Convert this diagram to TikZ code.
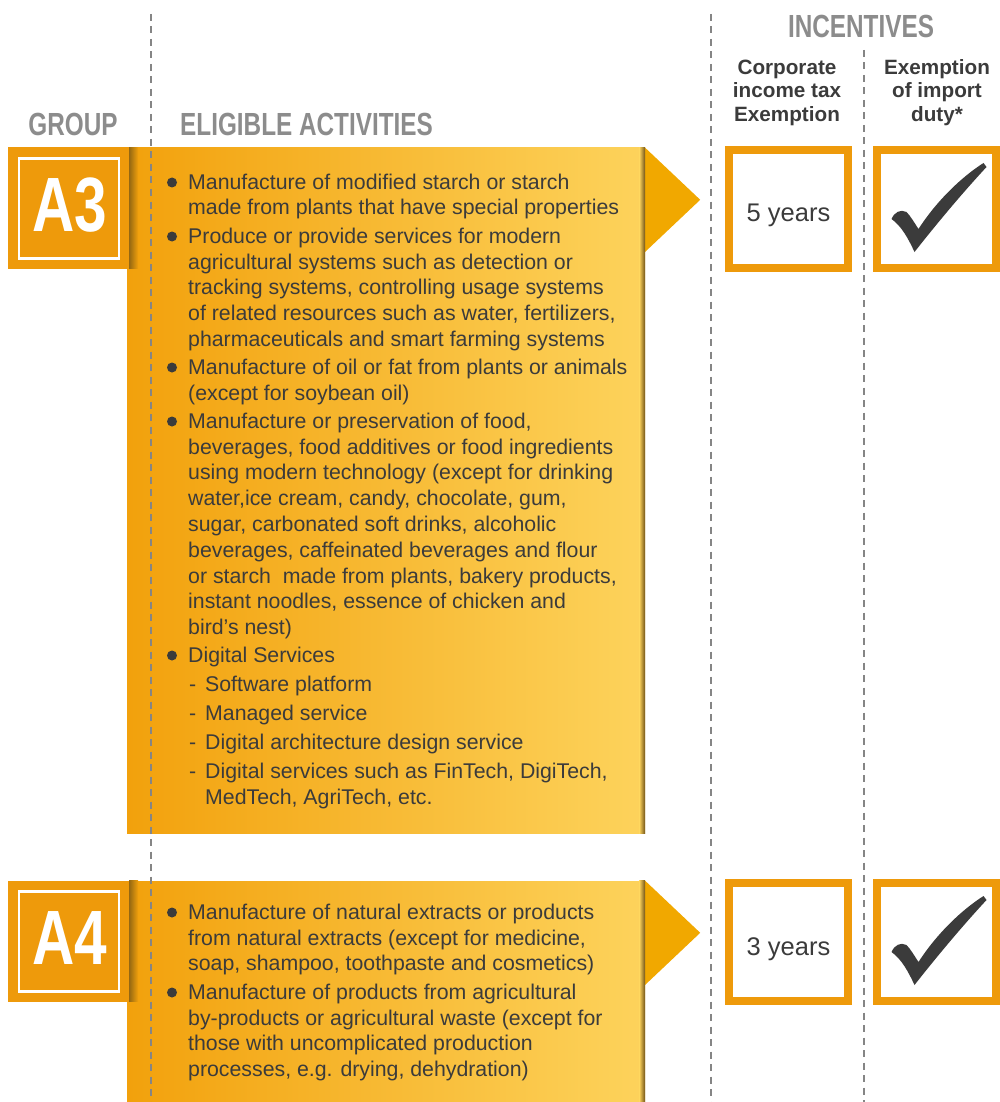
\documentclass[tikz,border=0pt]{standalone}
\usepackage{fontspec}
\setmainfont{Liberation Sans}
\newfontfamily\condfont[FakeStretch=0.76]{Liberation Sans}
\definecolor{hdrgray}{HTML}{8C8C8C}
\definecolor{txt}{HTML}{3B3B3B}
\definecolor{boxor}{HTML}{EE9A0B}
\definecolor{bandL}{HTML}{F2A10C}
\definecolor{bandR}{HTML}{FDD35C}
\definecolor{trior}{HTML}{F1A800}
\definecolor{shadowC}{HTML}{6E5014}
\definecolor{sepgray}{HTML}{858585}
\tikzset{
  hdr/.style={inner sep=0, text=hdrgray, font=\condfont\bfseries\fontsize{32}{36}\selectfont},
  colhdr/.style={inner sep=0, text=txt, align=center, font=\bfseries\fontsize{20.7}{23.5}\selectfont},
  gbox/.style={fill=boxor, minimum size=121, inner sep=0},
  gnum/.style={inner sep=0, text=white, font=\condfont\bfseries\fontsize{77}{77}\selectfont},
  band/.style={left color=bandL, right color=bandR, inner sep=0, minimum width=518},
  ibox/.style={draw=boxor, line width=8, fill=white, minimum width=119, minimum height=118, inner sep=0},
  itext/.style={anchor=base, inner sep=0, text=txt, font=\fontsize{25.5}{28}\selectfont},
  item/.style={anchor=north west, inner sep=0, text=txt, align=left, font=\fontsize{21.3}{25.8}\selectfont},
  sepline/.style={draw=sepgray, line width=2.5, dash pattern=on 7pt off 5.5pt},
  okmark/.pic={\fill[txt] (-45,10) .. controls (-42,3) and (-36,0) .. (-30,3) .. controls (-26,7) and (-22,14) .. (-18,20) .. controls (0,-8) and (25,-32) .. (47,-46) -- (50,-42) .. controls (25,-15) and (0,15) .. (-22,43) .. controls (-28,30) and (-35,17) .. (-45,10) -- cycle;}
}
\newcommand{\bul}[1]{\fill[txt] (172,#1-6.5) circle (5);}
\begin{document}
\begin{tikzpicture}[x=1pt,y=-1pt]
\useasboundingbox (0,0) rectangle (999,1102);
% headers
\node[hdr, anchor=base] (grp) at (73,136) {GROUP};
\node[hdr, anchor=base west] (elig) at (180,136) {ELIGIBLE ACTIVITIES};
\node[hdr, anchor=base] (inc) at (861,38) {INCENTIVES};
\node[colhdr, anchor=north] (cit) at (787,57.5) {\strut Corporate\\income tax\\Exemption};
\node[colhdr, anchor=north] (imp) at (937,57.5) {\strut Exemption\\of import\\duty*};
% A3 band
\node[band, minimum height=685] (band3) at (386,490.5) {};
\fill[trior] (band3.north east) -- ++(55,52) -- ++(-55,52) -- cycle;
\shade[left color=bandR, right color=shadowC] ([xshift=-6]band3.north east) rectangle (band3.south east);
% A4 band
\node[band, minimum height=221] (band4) at (386,991.5) {};
\fill[trior] (band4.north east) -- ++(55,52) -- ++(-55,52) -- cycle;
\shade[left color=bandR, right color=shadowC] ([xshift=-6]band4.north east) rectangle (band4.south east);
% group boxes
\node[gbox] (g3) at (68.5,208) {};
\shade[left color=shadowC!70!bandL, right color=bandL] (g3.north east) rectangle ([xshift=9]g3.south east);
\draw[white, line width=2.5] ([shift={(11,11)}]g3.north west) rectangle ([shift={(-10,-10)}]g3.south east);
\node[gnum] (a3) at (70,205.5) {A3};
\node[gbox] (g4) at (68.5,941) {};
\shade[left color=shadowC!70!bandL, right color=bandL] (g4.north east) rectangle ([xshift=9]g4.south east);
\draw[white, line width=2.5] ([shift={(11,11)}]g4.north west) rectangle ([shift={(-10,-10)}]g4.south east);
\node[gnum] (a4) at (70,938.5) {A4};
% separators
\coordinate (s1t) at (151,14); \coordinate (s1b) at (151,1102);
\coordinate (s2t) at (711,14); \coordinate (s2b) at (711,1102);
\coordinate (s3t) at (864,50); \coordinate (s3b) at (864,1102);
\draw[sepline] (s1t) -- (s1b);
\draw[sepline] (s2t) -- (s2b);
\draw[sepline] (s3t) -- (s3b);
% A3 items
\bul{189}
\node[item] (i31) at (188,189-18.06) {\strut Manufacture of modified starch or starch\\made from plants that have special properties};
\bul{243}
\node[item] (i32) at (188,243-18.06) {\strut Produce or provide services for modern\\agricultural systems such as detection or\\tracking systems, controlling usage systems\\of related resources such as water, fertilizers,\\pharmaceuticals and smart farming systems};
\bul{374}
\node[item] (i33) at (188,374-18.06) {\strut Manufacture of oil or fat from plants or animals\\(except for soybean oil)};
\bul{428}
\node[item] (i34) at (188,428-18.06) {\strut Manufacture or preservation of food,\\beverages, food additives or food ingredients\\using modern technology (except for drinking\\water,ice cream, candy, chocolate, gum,\\sugar, carbonated soft drinks, alcoholic\\beverages, caffeinated beverages and flour\\or starch\ \ made from plants, bakery products,\\instant noodles, essence of chicken and\\bird’s nest)};
\bul{662}
\node[item] (i35) at (188,662-18.06) {\strut Digital Services};
\node[item] (s1) at (189,691-18.06) {\strut\makebox[16pt][l]{-}Software platform};
\node[item] (s2) at (189,720-18.06) {\strut\makebox[16pt][l]{-}Managed service};
\node[item] (s3) at (189,749-18.06) {\strut\makebox[16pt][l]{-}Digital architecture design service};
\node[item] (s4) at (189,778-18.06) {\strut\makebox[16pt][l]{-}Digital services such as FinTech, DigiTech,\\\hspace*{16pt}MedTech, AgriTech, etc.};
% A4 items
\bul{919}
\node[item] (i41) at (188,919-18.06) {\strut Manufacture of natural extracts or products\\from natural extracts (except for medicine,\\soap, shampoo, toothpaste and cosmetics)};
\bul{999}
\node[item] (i42) at (188,999-18.06) {\strut Manufacture of products from agricultural\\by-products or agricultural waste (except for\\those with uncomplicated production\\processes, e.g. drying, dehydration)};
% incentive boxes
\node[ibox] (y3) at (788.5,209) {};
\node[itext] (y3t) at (788.5,222) {5 years};
\node[ibox] (c3) at (936.5,209) {};
\pic at (c3.center) {okmark};
\node[ibox] (y4) at (788.5,942) {};
\node[itext] (y4t) at (788.5,955) {3 years};
\node[ibox] (c4) at (936.5,942) {};
\pic at (c4.center) {okmark};
\end{tikzpicture}
\end{document}
